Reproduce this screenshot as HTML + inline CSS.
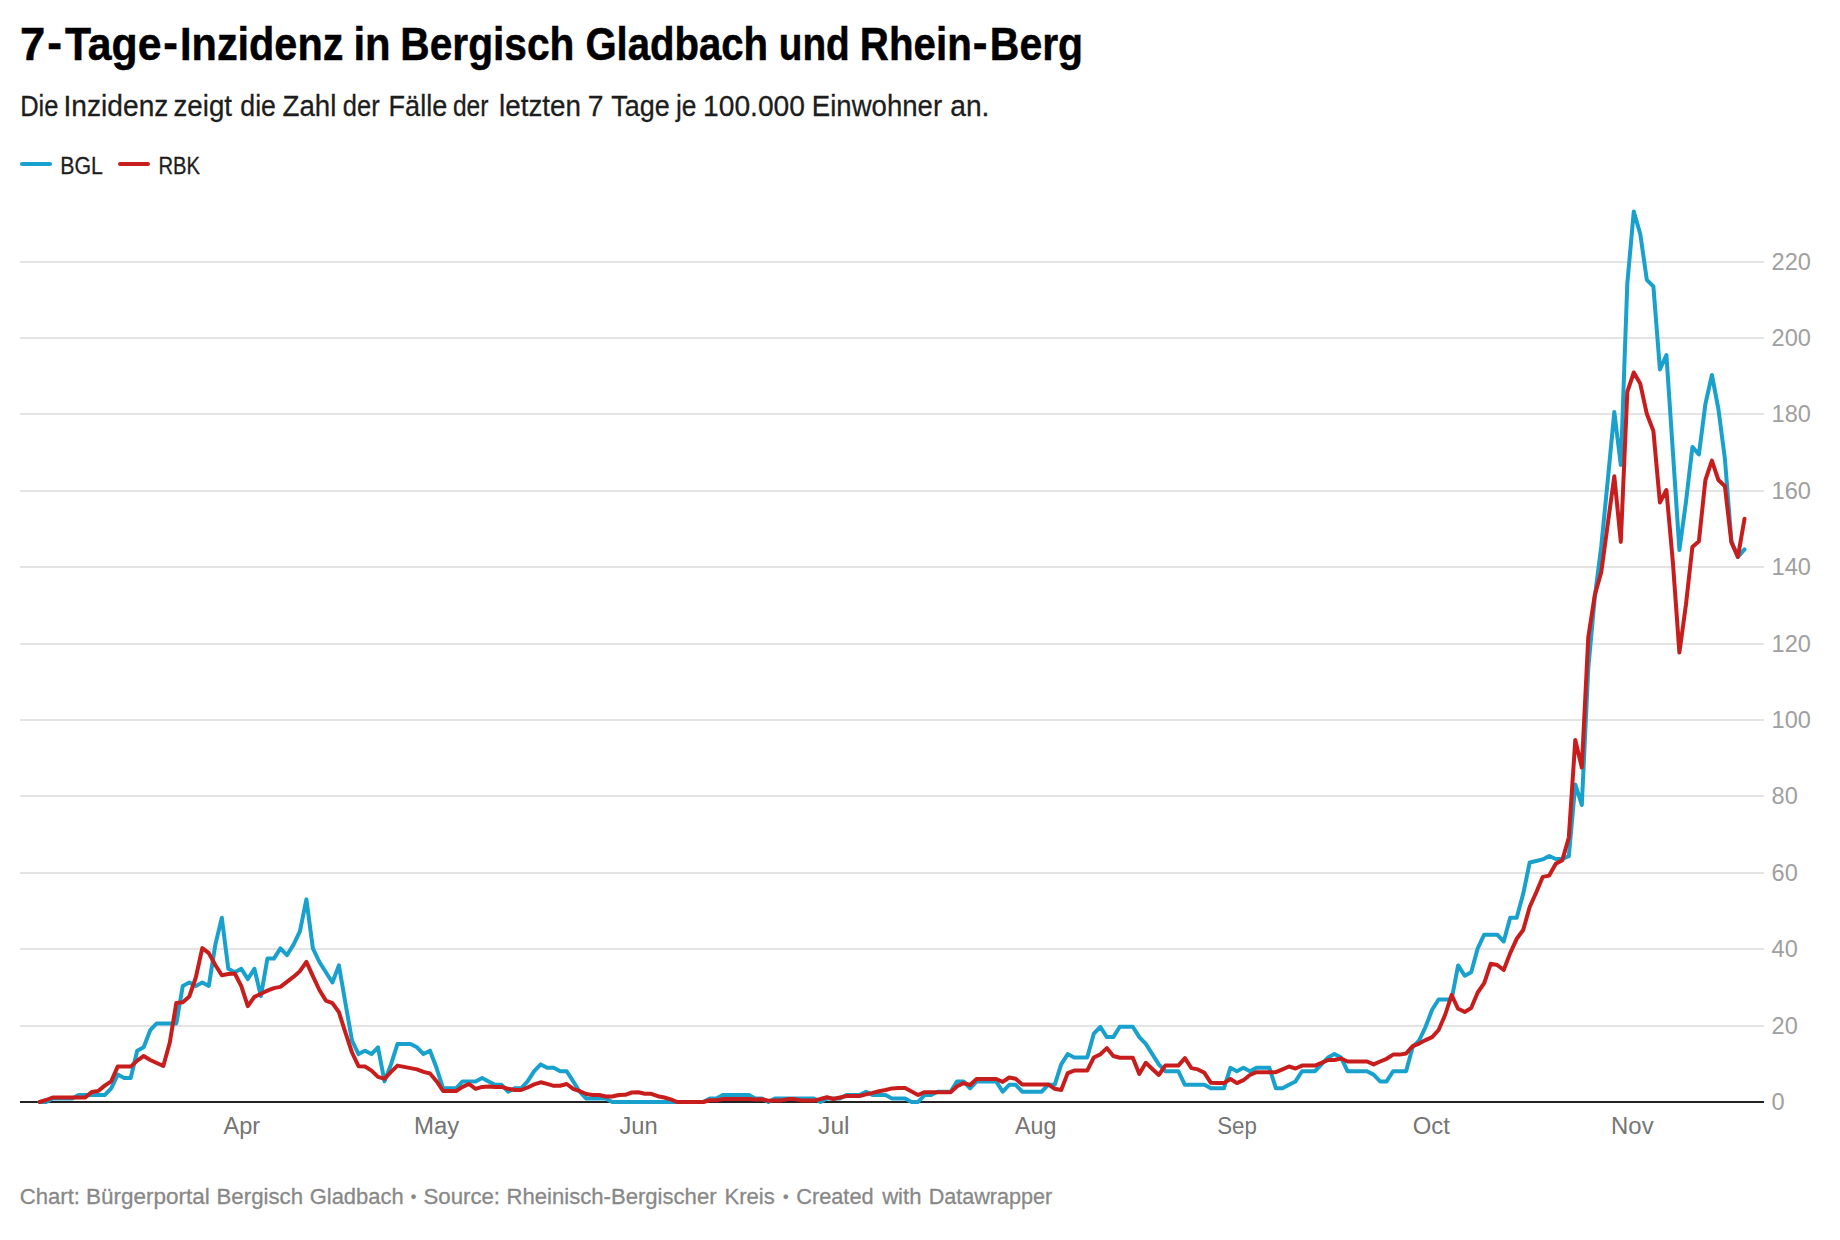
<!DOCTYPE html>
<html lang="de"><head><meta charset="utf-8"><title>7-Tage-Inzidenz in Bergisch Gladbach und Rhein-Berg</title>
<style>
html,body{margin:0;padding:0;background:#fff;}
body{width:1840px;height:1240px;overflow:hidden;font-family:"Liberation Sans",sans-serif;}
svg{display:block;}
text{font-family:"Liberation Sans",sans-serif;}
.title{font-weight:bold;font-size:46px;fill:#000;stroke:#000;stroke-width:0.5px;}
.sub{font-size:28.8px;fill:#1d1d1d;stroke:#1d1d1d;stroke-width:0.3px;}
.leg{font-size:24.7px;fill:#1d1d1d;stroke:#1d1d1d;stroke-width:0.3px;}
.grid line{stroke:#e4e4e4;stroke-width:2;}
.ylab text{font-size:24.7px;fill:#a0a0a0;}
.xlab text{font-size:24.7px;fill:#757575;}
.foot{font-size:22.7px;fill:#888;stroke:#888;stroke-width:0.3px;}
.ln{fill:none;stroke-width:4;stroke-linejoin:round;stroke-linecap:round;}
</style></head>
<body>
<svg width="1840" height="1240" viewBox="0 0 1840 1240">
<rect width="1840" height="1240" fill="#fff"/>
<text class="title" y="60"><tspan x="19.91" textLength="25.25" lengthAdjust="spacingAndGlyphs">7</tspan><tspan x="47.14" dy="-1.8" textLength="14.73" lengthAdjust="spacingAndGlyphs">-</tspan><tspan x="64.90" dy="1.8" textLength="96.64" lengthAdjust="spacingAndGlyphs">Tage</tspan><tspan x="163.25" dy="-1.8" textLength="14.61" lengthAdjust="spacingAndGlyphs">-</tspan><tspan x="180.10" dy="1.8" textLength="163.30" lengthAdjust="spacingAndGlyphs">Inzidenz</tspan> <tspan x="353.53" textLength="37.13" lengthAdjust="spacingAndGlyphs">in</tspan> <tspan x="400.35" textLength="174.01" lengthAdjust="spacingAndGlyphs">Bergisch</tspan> <tspan x="585.38" textLength="182.70" lengthAdjust="spacingAndGlyphs">Gladbach</tspan> <tspan x="778.82" textLength="70.95" lengthAdjust="spacingAndGlyphs">und</tspan> <tspan x="859.87" textLength="111.97" lengthAdjust="spacingAndGlyphs">Rhein</tspan><tspan x="972.79" dy="-1.8" textLength="14.73" lengthAdjust="spacingAndGlyphs">-</tspan><tspan x="989.83" dy="1.8" textLength="93.24" lengthAdjust="spacingAndGlyphs">Berg</tspan></text>
<text class="sub" y="116"><tspan x="20.13" textLength="38.27" lengthAdjust="spacingAndGlyphs">Die</tspan> <tspan x="63.55" textLength="104.82" lengthAdjust="spacingAndGlyphs">Inzidenz</tspan> <tspan x="173.54" textLength="58.46" lengthAdjust="spacingAndGlyphs">zeigt</tspan> <tspan x="240.32" textLength="35.62" lengthAdjust="spacingAndGlyphs">die</tspan> <tspan x="282.50" textLength="53.84" lengthAdjust="spacingAndGlyphs">Zahl</tspan> <tspan x="342.87" textLength="36.77" lengthAdjust="spacingAndGlyphs">der</tspan> <tspan x="388.62" textLength="58.58" lengthAdjust="spacingAndGlyphs">Fälle</tspan> <tspan x="452.90" textLength="35.50" lengthAdjust="spacingAndGlyphs">der</tspan> <tspan x="499.03" textLength="81.95" lengthAdjust="spacingAndGlyphs">letzten</tspan> <tspan x="587.77" textLength="15.73" lengthAdjust="spacingAndGlyphs">7</tspan> <tspan x="611.25" textLength="58.45" lengthAdjust="spacingAndGlyphs">Tage</tspan> <tspan x="675.92" textLength="20.51" lengthAdjust="spacingAndGlyphs">je</tspan> <tspan x="703.04" textLength="101.95" lengthAdjust="spacingAndGlyphs">100.000</tspan> <tspan x="811.84" textLength="130.27" lengthAdjust="spacingAndGlyphs">Einwohner</tspan> <tspan x="950.27" textLength="39.19" lengthAdjust="spacingAndGlyphs">an.</tspan></text>
<g class="ln"><path d="M22,164H50" stroke="#18a1cd"/><path d="M120,164H148" stroke="#c71e1d"/></g>
<text class="leg" y="174" x="60.17" textLength="42.66" lengthAdjust="spacingAndGlyphs">BGL</text>
<text class="leg" y="174" x="158.46" textLength="41.50" lengthAdjust="spacingAndGlyphs">RBK</text>
<g class="grid"><line x1="20" x2="1764" y1="1026.00" y2="1026.00"/><line x1="20" x2="1764" y1="949.00" y2="949.00"/><line x1="20" x2="1764" y1="873.00" y2="873.00"/><line x1="20" x2="1764" y1="796.00" y2="796.00"/><line x1="20" x2="1764" y1="720.00" y2="720.00"/><line x1="20" x2="1764" y1="644.00" y2="644.00"/><line x1="20" x2="1764" y1="567.00" y2="567.00"/><line x1="20" x2="1764" y1="491.00" y2="491.00"/><line x1="20" x2="1764" y1="414.00" y2="414.00"/><line x1="20" x2="1764" y1="338.00" y2="338.00"/><line x1="20" x2="1764" y1="262.00" y2="262.00"/></g>
<line x1="20" x2="1764" y1="1102.0" y2="1102.0" stroke="#222" stroke-width="2"/>
<g class="ylab"><text x="1771.6" y="1110.1" textLength="13.11" lengthAdjust="spacingAndGlyphs">0</text><text x="1771.6" y="1034.1" textLength="26.22" lengthAdjust="spacingAndGlyphs">20</text><text x="1771.6" y="957.1" textLength="26.22" lengthAdjust="spacingAndGlyphs">40</text><text x="1771.6" y="881.1" textLength="26.22" lengthAdjust="spacingAndGlyphs">60</text><text x="1771.6" y="804.1" textLength="26.22" lengthAdjust="spacingAndGlyphs">80</text><text x="1771.6" y="728.1" textLength="39.34" lengthAdjust="spacingAndGlyphs">100</text><text x="1771.6" y="652.1" textLength="39.34" lengthAdjust="spacingAndGlyphs">120</text><text x="1771.6" y="575.1" textLength="39.34" lengthAdjust="spacingAndGlyphs">140</text><text x="1771.6" y="499.1" textLength="39.34" lengthAdjust="spacingAndGlyphs">160</text><text x="1771.6" y="422.1" textLength="39.34" lengthAdjust="spacingAndGlyphs">180</text><text x="1771.6" y="346.1" textLength="39.34" lengthAdjust="spacingAndGlyphs">200</text><text x="1771.6" y="270.1" textLength="39.34" lengthAdjust="spacingAndGlyphs">220</text></g>
<g class="xlab"><text y="1134" x="223.50" textLength="36.71" lengthAdjust="spacingAndGlyphs">Apr</text><text y="1134" x="414.06" textLength="45.31" lengthAdjust="spacingAndGlyphs">May</text><text y="1134" x="619.40" textLength="38.20" lengthAdjust="spacingAndGlyphs">Jun</text><text y="1134" x="818.10" textLength="31.48" lengthAdjust="spacingAndGlyphs">Jul</text><text y="1134" x="1015.00" textLength="41.29" lengthAdjust="spacingAndGlyphs">Aug</text><text y="1134" x="1217.20" textLength="39.71" lengthAdjust="spacingAndGlyphs">Sep</text><text y="1134" x="1412.78" textLength="37.08" lengthAdjust="spacingAndGlyphs">Oct</text><text y="1134" x="1611.06" textLength="42.55" lengthAdjust="spacingAndGlyphs">Nov</text></g>
<g class="ln">
<path stroke="#18a1cd" d="M39.6,1101.9L46.1,1101.9L52.6,1098.5L59.1,1098.5L65.6,1098.5L72.2,1098.5L78.7,1095.1L85.2,1095.1L91.7,1095.1L98.2,1095.1L104.7,1095.1L111.2,1088.3L117.7,1074.6L124.2,1078.0L130.7,1078.0L137.2,1050.7L143.7,1047.3L150.2,1030.2L156.7,1023.4L163.3,1023.4L169.8,1023.4L176.3,1023.4L182.8,985.9L189.3,982.5L195.8,985.9L202.3,982.5L208.8,985.9L215.3,944.9L221.8,917.7L228.3,968.8L234.8,972.2L241.3,968.8L247.8,979.1L254.4,968.8L260.9,996.1L267.4,958.6L273.9,958.6L280.4,948.4L286.9,955.2L293.4,944.9L299.9,931.3L306.4,899.4L312.9,948.4L319.4,962.0L325.9,972.2L332.4,982.5L338.9,965.4L345.4,1003.0L352.0,1040.5L358.5,1054.1L365.0,1050.7L371.5,1054.1L378.0,1047.3L384.5,1081.4L391.0,1064.4L397.5,1043.9L404.0,1043.9L410.5,1043.9L417.0,1047.3L423.5,1054.1L430.0,1050.7L436.5,1067.8L443.1,1088.3L449.6,1088.3L456.1,1088.3L462.6,1081.4L469.1,1081.4L475.6,1081.4L482.1,1078.0L488.6,1081.4L495.1,1084.8L501.6,1084.8L508.1,1091.7L514.6,1088.3L521.1,1088.3L527.6,1081.4L534.2,1071.2L540.7,1064.4L547.2,1067.8L553.7,1067.8L560.2,1071.2L566.7,1071.2L573.2,1081.4L579.7,1091.7L586.2,1098.5L592.7,1098.5L599.2,1098.5L605.7,1098.5L612.2,1101.9L618.7,1101.9L625.2,1101.9L631.8,1101.9L638.3,1101.9L644.8,1101.9L651.3,1101.9L657.8,1101.9L664.3,1101.9L670.8,1101.9L677.3,1101.9L683.8,1101.9L690.3,1101.9L696.8,1101.9L703.3,1101.9L709.8,1098.5L716.3,1098.5L722.9,1095.1L729.4,1095.1L735.9,1095.1L742.4,1095.1L748.9,1095.1L755.4,1098.5L761.9,1098.5L768.4,1101.9L774.9,1098.5L781.4,1098.5L787.9,1098.5L794.4,1098.5L800.9,1098.5L807.4,1098.5L814.0,1098.5L820.5,1101.9L827.0,1098.5L833.5,1098.5L840.0,1098.5L846.5,1095.1L853.0,1095.1L859.5,1095.1L866.0,1091.7L872.5,1095.1L879.0,1095.1L885.5,1095.1L892.0,1098.5L898.5,1098.5L905.1,1098.5L911.6,1101.9L918.1,1101.9L924.6,1095.1L931.1,1095.1L937.6,1091.7L944.1,1091.7L950.6,1091.7L957.1,1081.4L963.6,1081.4L970.1,1088.3L976.6,1081.4L983.1,1081.4L989.6,1081.4L996.1,1081.4L1002.7,1091.7L1009.2,1084.8L1015.7,1084.8L1022.2,1091.7L1028.7,1091.7L1035.2,1091.7L1041.7,1091.7L1048.2,1084.8L1054.7,1084.8L1061.2,1064.4L1067.7,1054.1L1074.2,1057.5L1080.7,1057.5L1087.2,1057.5L1093.8,1033.7L1100.3,1026.8L1106.8,1037.1L1113.3,1037.1L1119.8,1026.8L1126.3,1026.8L1132.8,1026.8L1139.3,1037.1L1145.8,1043.9L1152.3,1054.1L1158.8,1064.4L1165.3,1071.2L1171.8,1071.2L1178.3,1071.2L1184.9,1084.8L1191.4,1084.8L1197.9,1084.8L1204.4,1084.8L1210.9,1088.3L1217.4,1088.3L1223.9,1088.3L1230.4,1067.8L1236.9,1071.2L1243.4,1067.8L1249.9,1071.2L1256.4,1067.8L1262.9,1067.8L1269.4,1067.8L1275.9,1088.3L1282.5,1088.3L1289.0,1084.8L1295.5,1081.4L1302.0,1071.2L1308.5,1071.2L1315.0,1071.2L1321.5,1064.4L1328.0,1057.5L1334.5,1054.1L1341.0,1057.5L1347.5,1071.2L1354.0,1071.2L1360.5,1071.2L1367.0,1071.2L1373.6,1074.6L1380.1,1081.4L1386.6,1081.4L1393.1,1071.2L1399.6,1071.2L1406.1,1071.2L1412.6,1047.3L1419.1,1040.5L1425.6,1026.8L1432.1,1009.8L1438.6,999.5L1445.1,999.5L1451.6,999.5L1458.1,965.4L1464.7,975.7L1471.2,972.2L1477.7,948.4L1484.2,934.7L1490.7,934.7L1497.2,934.7L1503.7,941.5L1510.2,917.7L1516.7,917.7L1523.2,893.8L1529.7,862.5L1536.2,861.0L1542.7,859.4L1549.2,856.0L1555.8,859.0L1562.3,859.0L1568.8,856.2L1575.3,784.4L1581.8,805.0L1588.3,668.0L1594.8,597.0L1601.3,546.0L1607.8,480.0L1614.3,412.0L1620.8,465.0L1627.3,283.5L1633.8,211.5L1640.3,234.3L1646.8,279.8L1653.4,286.5L1659.9,369.4L1666.4,355.0L1672.9,452.0L1679.4,550.0L1685.9,502.5L1692.4,446.9L1698.9,454.4L1705.4,404.0L1711.9,375.0L1718.4,409.0L1724.9,458.8L1731.4,541.0L1737.9,557.0L1744.5,549.4"/>
<path stroke="#c71e1d" d="M39.6,1102.0L46.1,1100.0L52.6,1097.5L59.1,1097.5L65.6,1097.5L72.2,1097.5L78.7,1097.5L85.2,1097.5L91.7,1091.9L98.2,1091.0L104.7,1085.6L111.2,1081.3L117.7,1066.6L124.2,1066.6L130.7,1066.6L137.2,1060.6L143.7,1056.0L150.2,1060.0L156.7,1063.0L163.3,1066.0L169.8,1042.5L176.3,1003.0L182.8,1002.2L189.3,996.5L195.8,977.5L202.3,948.1L208.8,953.1L215.3,965.0L221.8,975.2L228.3,974.0L234.8,973.5L241.3,986.2L247.8,1006.2L254.4,996.9L260.9,993.8L267.4,990.6L273.9,988.1L280.4,986.9L286.9,981.9L293.4,976.9L299.9,971.2L306.4,961.9L312.9,976.2L319.4,990.0L325.9,1000.6L332.4,1003.1L338.9,1012.2L345.4,1032.5L352.0,1052.5L358.5,1066.2L365.0,1066.5L371.5,1070.6L378.0,1076.9L384.5,1078.8L391.0,1071.9L397.5,1065.6L404.0,1066.9L410.5,1068.1L417.0,1069.4L423.5,1071.9L430.0,1073.5L436.5,1081.2L443.1,1091.0L449.6,1091.0L456.1,1091.0L462.6,1086.9L469.1,1084.0L475.6,1088.8L482.1,1086.9L488.6,1086.5L495.1,1086.9L501.6,1086.9L508.1,1088.8L514.6,1090.0L521.1,1090.0L527.6,1087.5L534.2,1084.4L540.7,1082.3L547.2,1083.9L553.7,1085.8L560.2,1085.8L566.7,1084.0L573.2,1088.8L579.7,1091.2L586.2,1094.0L592.7,1095.0L599.2,1095.0L605.7,1096.5L612.2,1096.5L618.7,1095.0L625.2,1094.8L631.8,1092.5L638.3,1092.2L644.8,1093.8L651.3,1093.8L657.8,1096.2L664.3,1097.5L670.8,1099.4L677.3,1102.0L683.8,1102.0L690.3,1102.0L696.8,1102.0L703.3,1102.0L709.8,1100.2L716.3,1100.2L722.9,1099.1L729.4,1099.1L735.9,1099.1L742.4,1099.1L748.9,1099.1L755.4,1099.4L761.9,1099.2L768.4,1100.7L774.9,1100.6L781.4,1100.4L787.9,1099.1L794.4,1099.1L800.9,1100.4L807.4,1100.6L814.0,1100.6L820.5,1099.0L827.0,1097.2L833.5,1099.0L840.0,1097.5L846.5,1096.0L853.0,1096.0L859.5,1096.0L866.0,1094.4L872.5,1092.9L879.0,1091.2L885.5,1090.0L892.0,1088.4L898.5,1088.1L905.1,1088.1L911.6,1091.5L918.1,1095.0L924.6,1092.2L931.1,1092.2L937.6,1092.2L944.1,1092.2L950.6,1092.2L957.1,1086.2L963.6,1083.1L970.1,1085.0L976.6,1079.0L983.1,1079.0L989.6,1079.0L996.1,1079.0L1002.7,1081.9L1009.2,1077.5L1015.7,1078.8L1022.2,1084.4L1028.7,1084.4L1035.2,1084.4L1041.7,1084.4L1048.2,1084.4L1054.7,1088.8L1061.2,1090.0L1067.7,1073.1L1074.2,1070.6L1080.7,1070.6L1087.2,1070.6L1093.8,1057.5L1100.3,1054.4L1106.8,1048.1L1113.3,1056.0L1119.8,1057.8L1126.3,1057.8L1132.8,1057.8L1139.3,1074.0L1145.8,1062.8L1152.3,1069.0L1158.8,1075.0L1165.3,1065.6L1171.8,1065.6L1178.3,1065.6L1184.9,1058.1L1191.4,1068.1L1197.9,1069.4L1204.4,1072.8L1210.9,1082.8L1217.4,1083.1L1223.9,1083.1L1230.4,1079.0L1236.9,1083.1L1243.4,1080.2L1249.9,1075.0L1256.4,1072.2L1262.9,1072.2L1269.4,1072.2L1275.9,1072.2L1282.5,1069.4L1289.0,1066.5L1295.5,1068.5L1302.0,1065.6L1308.5,1065.6L1315.0,1065.6L1321.5,1062.9L1328.0,1060.0L1334.5,1060.0L1341.0,1058.5L1347.5,1061.5L1354.0,1061.5L1360.5,1061.5L1367.0,1061.5L1373.6,1064.4L1380.1,1061.5L1386.6,1058.8L1393.1,1054.6L1399.6,1054.6L1406.1,1053.5L1412.6,1046.2L1419.1,1043.6L1425.6,1040.1L1432.1,1037.2L1438.6,1030.0L1445.1,1015.0L1451.6,995.0L1458.1,1008.8L1464.7,1011.9L1471.2,1008.1L1477.7,992.5L1484.2,983.1L1490.7,963.8L1497.2,965.0L1503.7,970.0L1510.2,953.1L1516.7,938.8L1523.2,930.0L1529.7,907.0L1536.2,892.5L1542.7,876.9L1549.2,875.6L1555.8,863.8L1562.3,860.2L1568.8,837.5L1575.3,740.0L1581.8,767.5L1588.3,637.0L1594.8,595.0L1601.3,572.0L1607.8,523.8L1614.3,476.2L1620.8,541.9L1627.3,391.9L1633.8,372.5L1640.3,383.8L1646.8,413.8L1653.4,431.0L1659.9,502.5L1666.4,490.0L1672.9,562.5L1679.4,652.5L1685.9,605.0L1692.4,546.9L1698.9,541.2L1705.4,480.0L1711.9,460.6L1718.4,480.0L1724.9,486.2L1731.4,542.5L1737.9,556.9L1744.5,518.8"/>
</g>
<text class="foot" y="1203.8"><tspan x="19.77" textLength="60.25" lengthAdjust="spacingAndGlyphs">Chart:</tspan> <tspan x="86.01" textLength="123.77" lengthAdjust="spacingAndGlyphs">Bürgerportal</tspan> <tspan x="216.52" textLength="86.59" lengthAdjust="spacingAndGlyphs">Bergisch</tspan> <tspan x="309.78" textLength="93.81" lengthAdjust="spacingAndGlyphs">Gladbach</tspan> <tspan x="410.72" dy="-2.1" font-size="15.9">•</tspan> <tspan x="423.52" dy="2.1" textLength="76.50" lengthAdjust="spacingAndGlyphs">Source:</tspan> <tspan x="506.53" textLength="210.04" lengthAdjust="spacingAndGlyphs">Rheinisch-Bergischer</tspan> <tspan x="724.53" textLength="50.31" lengthAdjust="spacingAndGlyphs">Kreis</tspan> <tspan x="782.97" dy="-2.1" font-size="15.9">•</tspan> <tspan x="796.24" dy="2.1" textLength="77.35" lengthAdjust="spacingAndGlyphs">Created</tspan> <tspan x="882.17" textLength="39.33" lengthAdjust="spacingAndGlyphs">with</tspan> <tspan x="928.65" textLength="123.63" lengthAdjust="spacingAndGlyphs">Datawrapper</tspan></text>
</svg>
</body></html>
